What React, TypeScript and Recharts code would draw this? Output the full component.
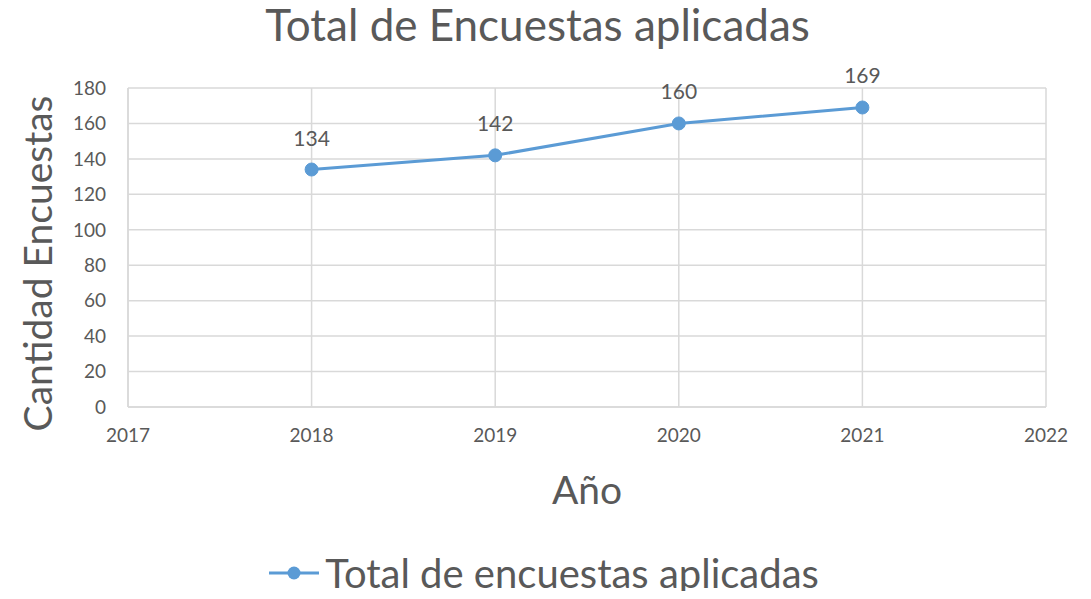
import React from "react"
import {
  LineChart,
  Line,
  XAxis,
  YAxis,
  CartesianGrid,
  Legend,
  LabelList,
} from "recharts"

const years = [2018, 2019, 2020, 2021]
const encuestas = [134, 142, 160, 169]
const xTicks = [2017, 2018, 2019, 2020, 2021, 2022]
const yTicks = [0, 20, 40, 60, 80, 100, 120, 140, 160, 180]

const seriesName = "Total de encuestas aplicadas"
const lineColor = "#5b9bd5"
const textColor = "#595959"
const gridColor = "#d9d9d9"
const font = "Lato, 'Open Sans', sans-serif"

const data = years.map((year, i) => ({ year, total: encuestas[i] }))

function LegendContent() {
  return (
    <div style={{ height: 44, position: "relative" }}>
      <div
        style={{
          position: "absolute",
          top: -6,
          left: 0,
          right: 0,
          display: "flex",
          justifyContent: "center",
          alignItems: "center",
          fontFamily: font,
          fontSize: 40,
          lineHeight: "48px",
          color: textColor,
          paddingLeft: 30,
        }}
      >
        <svg width={54} height={20} style={{ marginRight: 4 }}>
          <line x1={2} y1={10} x2={52} y2={10} stroke={lineColor} strokeWidth={3} />
          <circle cx={27} cy={10} r={6.5} fill={lineColor} />
        </svg>
        <span>{seriesName}</span>
      </div>
    </div>
  )
}

export default function App() {
  return (
    <div style={{ margin: -8, position: "relative", width: 1091, height: 599, background: "#fff" }}>
      <div
        style={{
          position: "absolute",
          top: 2,
          left: 0,
          width: 1075,
          textAlign: "center",
          fontFamily: font,
          fontSize: 44,
          lineHeight: "44px",
          color: textColor,
        }}
      >
        Total de Encuestas aplicadas
      </div>
      <LineChart
        width={1091}
        height={599}
        data={data}
        margin={{ top: 88, right: 45, left: 10, bottom: 0 }}
      >
        <CartesianGrid stroke={gridColor} strokeWidth={1.5} />
        <XAxis
          dataKey="year"
          type="number"
          domain={[2017, 2022]}
          ticks={xTicks}
          interval={0}
          tickLine={false}
          axisLine={{ stroke: gridColor, strokeWidth: 1.5 }}
          tick={{ fill: textColor, fontSize: 19, fontFamily: font }}
          tickMargin={16}
          height={148}
          label={{
            value: "Año",
            position: "insideBottom",
            offset: 51,
            fill: textColor,
            fontSize: 39,
            fontFamily: font,
          }}
        />
        <YAxis
          type="number"
          domain={[0, 180]}
          ticks={yTicks}
          interval={0}
          tickLine={false}
          axisLine={{ stroke: gridColor, strokeWidth: 1.5 }}
          tick={{ fill: textColor, fontSize: 19, fontFamily: font }}
          tickMargin={16}
          width={118}
          label={{
            value: "Cantidad Encuestas",
            angle: -90,
            position: "insideLeft",
            offset: 28,
            dy: 16,
            style: { textAnchor: "middle" },
            fill: textColor,
            fontSize: 39,
            fontFamily: font,
          }}
        />
        <Legend verticalAlign="bottom" content={<LegendContent />} />
        <Line
          type="linear"
          dataKey="total"
          name={seriesName}
          stroke={lineColor}
          strokeWidth={3}
          dot={{ r: 6.5, fill: lineColor, stroke: lineColor, strokeWidth: 1 }}
          isAnimationActive={false}
        >
          <LabelList
            dataKey="total"
            position="top"
            offset={24}
            fill={textColor}
            fontSize={21}
            fontFamily={font}
          />
        </Line>
      </LineChart>
    </div>
  )
}
